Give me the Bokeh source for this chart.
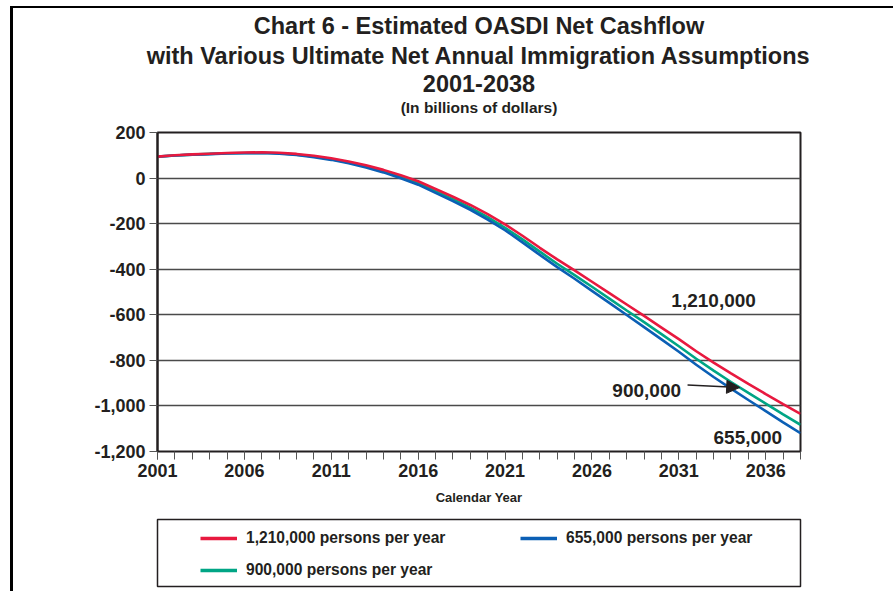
from bokeh.plotting import figure
from bokeh.layouts import column
from bokeh.models import (ColumnDataSource, FixedTicker, Title, Legend, LegendItem,
                          Label, Arrow, NormalHead)
from bokeh.embed import file_html
from bokeh.resources import INLINE

years = list(range(2001, 2039))
flow_1210k = [94, 100, 104, 107, 110, 112, 113, 111, 106, 98, 87, 73, 56, 36, 12, -14,
              -48, -82, -118, -158, -203, -253, -306, -357, -405, -455, -505, -555, -605,
              -656, -707, -760, -810, -857, -903, -948, -992, -1035]
flow_900k = [94, 99, 103, 106, 109, 110, 111, 109, 103, 95, 83, 69, 50, 30, 5, -22,
             -58, -93, -130, -171, -218, -269, -323, -376, -426, -477, -529, -581, -632,
             -685, -738, -793, -845, -895, -943, -990, -1037, -1083]
flow_655k = [94, 99, 103, 105, 108, 109, 110, 107, 101, 92, 80, 65, 46, 25, -1, -29,
             -65, -101, -139, -182, -229, -282, -337, -391, -442, -495, -548, -601, -654,
             -708, -762, -819, -873, -924, -974, -1023, -1072, -1120]

x_major_ticks = [2001, 2006, 2011, 2016, 2021, 2026, 2031, 2036]
y_ticks = [200, 0, -200, -400, -600, -800, -1000, -1200]
y_tick_labels = ["200", "0", "-200", "-400", "-600", "-800", "-1,000", "-1,200"]
series_names = ["1,210,000 persons per year", "900,000 persons per year",
                "655,000 persons per year"]
series_colors = ["#e8193f", "#00a585", "#0b5fb5"]

FONT = "Liberation Sans"
TXT = "#231f20"

src = ColumnDataSource(dict(year=years, high=flow_1210k, mid=flow_900k, low=flow_655k))

p = figure(width=893, height=510, x_range=(2001, 2038), y_range=(-1200, 200),
           output_backend="svg", toolbar_location=None, title=None,
           min_border_left=157, min_border_right=93, min_border_top=132,
           min_border_bottom=59)
p.background_fill_color = "white"
p.border_fill_color = None
p.outline_line_color = "#231f20"
p.outline_line_width = 2

# titles (first added sits closest to the plot)
titles = [("(In billions of dollars)", "15.5px", 34),
          ("2001-2038", "23.5px", -24),
          ("with Various Ultimate Net Annual Immigration Assumptions", "23.5px", 22),
          ("Chart 6 - Estimated OASDI Net Cashflow", "23.5px", -19)]
for txt, size, stand in titles:
    p.add_layout(Title(text=txt, align="center", text_font=FONT, text_font_style="bold",
                       text_font_size=size, text_color=TXT, standoff=stand), "above")

# axes
p.xaxis.ticker = FixedTicker(ticks=x_major_ticks, minor_ticks=years)
p.xaxis.major_tick_out = 8
p.xaxis.major_tick_in = 0
p.xaxis.minor_tick_out = 8
p.xaxis.minor_tick_in = 0
p.xaxis.axis_line_color = "#231f20"
p.xaxis.major_tick_line_color = "#555555"
p.xaxis.minor_tick_line_color = "#555555"
p.xaxis.major_label_text_font = FONT
p.xaxis.major_label_text_font_style = "bold"
p.xaxis.major_label_text_font_size = "18px"
p.xaxis.major_label_text_color = TXT
p.xaxis.major_label_standoff = 4
p.xaxis.axis_label = "Calendar Year"
p.xaxis.axis_label_text_font = FONT
p.xaxis.axis_label_text_font_style = "bold"
p.xaxis.axis_label_text_font_size = "13px"
p.xaxis.axis_label_text_color = TXT
p.xaxis.axis_label_standoff = 10

p.yaxis.ticker = FixedTicker(ticks=y_ticks, minor_ticks=[])
p.yaxis.major_label_overrides = dict(zip(y_ticks, y_tick_labels))
p.yaxis.major_tick_out = 8
p.yaxis.major_tick_in = 0
p.yaxis.axis_line_color = "#231f20"
p.yaxis.axis_line_width = 2
p.yaxis.major_tick_line_color = "#555555"
p.yaxis.major_label_text_font = FONT
p.yaxis.major_label_text_font_style = "bold"
p.yaxis.major_label_text_font_size = "18px"
p.yaxis.major_label_text_color = TXT
p.yaxis.major_label_standoff = 4

p.xgrid.grid_line_color = None
p.ygrid.grid_line_color = "#4a4a4a"
p.ygrid.grid_line_width = 1.3

r_mid = p.line("year", "mid", source=src, line_color=series_colors[1], line_width=2.6)
r_low = p.line("year", "low", source=src, line_color=series_colors[2], line_width=2.6)
r_high = p.line("year", "high", source=src, line_color=series_colors[0], line_width=2.6)

# in-plot annotations
lab_kw = dict(text_font=FONT, text_font_style="bold", text_font_size="19px",
              text_color=TXT, text_align="center", text_baseline="middle")
p.add_layout(Label(x=2033.0, y=-537, text="1,210,000", **lab_kw))
p.add_layout(Label(x=2029.15, y=-932, text="900,000", **lab_kw))
p.add_layout(Label(x=2034.97, y=-1138, text="655,000", **lab_kw))
p.add_layout(Arrow(x_start=2031.5, y_start=-908, x_end=2034.5, y_end=-919,
                   line_color="#231f20", line_width=1.5,
                   end=NormalHead(size=13, fill_color="#231f20", line_color="#231f20")))

# legend panel: a second figure whose frame is the legend box
p2 = figure(width=893, height=81, x_range=(0, 1), y_range=(0, 1),
            x_axis_type=None, y_axis_type=None, output_backend="svg",
            toolbar_location=None, title=None,
            min_border_left=157, min_border_right=93, min_border_top=9,
            min_border_bottom=5)
p2.border_fill_color = None
p2.background_fill_color = "white"
p2.outline_line_color = "#231f20"
p2.outline_line_width = 1.5
nan = float("nan")
key_src = ColumnDataSource(dict(x=[nan], y=[nan]))
k_high = p2.line("x", "y", source=key_src, line_color=series_colors[0], line_width=3.5)
k_mid = p2.line("x", "y", source=key_src, line_color=series_colors[1], line_width=3.5)
k_low = p2.line("x", "y", source=key_src, line_color=series_colors[2], line_width=3.5)

leg_kw = dict(label_text_font=FONT, label_text_font_style="bold", label_text_font_size="15.6px",
              label_text_color=TXT, glyph_width=37, glyph_height=20, label_height=20,
              label_standoff=9, spacing=12, padding=0, margin=0, border_line_color=None,
              background_fill_alpha=0)
leg1 = Legend(items=[LegendItem(label=series_names[0], renderers=[k_high]),
                     LegendItem(label=series_names[1], renderers=[k_mid])],
              location=(43, 6), orientation="vertical", **leg_kw)
leg2 = Legend(items=[LegendItem(label=series_names[2], renderers=[k_low])],
              location=(363, 38), orientation="vertical", **leg_kw)
p2.add_layout(leg1, "center")
p2.add_layout(leg2, "center")

frame_css = {"background": ("linear-gradient(#000,#000) 10px 6px / 3px 585px no-repeat, "
                            "linear-gradient(#000,#000) 10px 6px / 883px 2px no-repeat")}
layout = column(p, p2, spacing=0, styles=frame_css)

open("out.html", "w").write(file_html(layout, INLINE))
